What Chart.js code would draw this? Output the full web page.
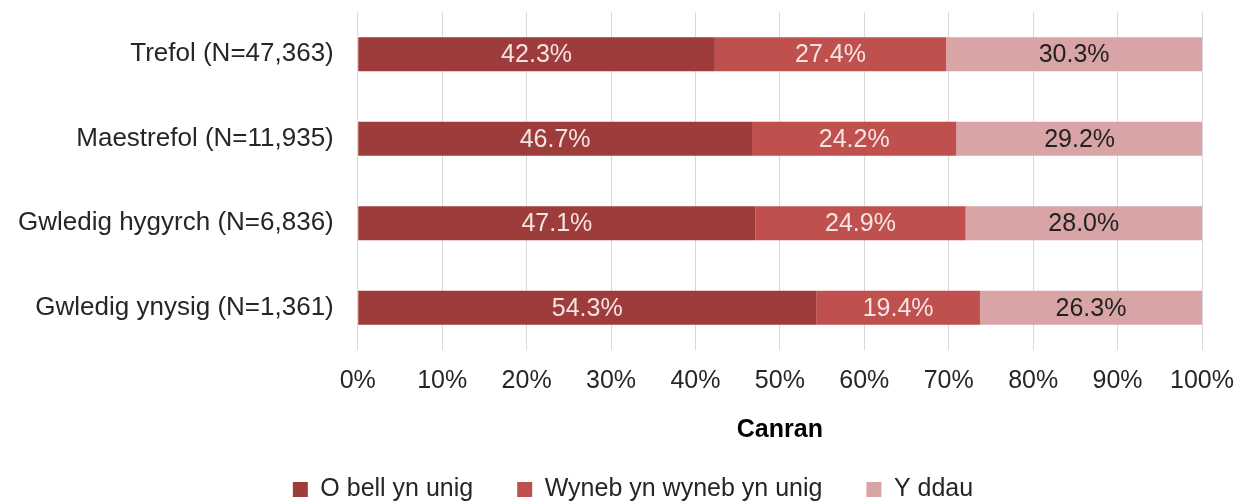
<!DOCTYPE html>
<html>
<head>
<meta charset="utf-8">
<script src="https://cdn.jsdelivr.net/npm/chart.js@4"></script>
<style>
  html, body { margin: 0; padding: 0; background: #fff; }
  #wrap { width: 1240px; height: 504px; position: relative; }
</style>
</head>
<body>
<div id="wrap"><canvas id="siart"></canvas></div>
<script>
// Data
const categories = ['Trefol (N=47,363)', 'Maestrefol (N=11,935)', 'Gwledig hygyrch (N=6,836)', 'Gwledig ynysig (N=1,361)'];
const seriesNames = ['O bell yn unig', 'Wyneb yn wyneb yn unig', 'Y ddau'];
const oBell = [42.3, 46.7, 47.1, 54.3];
const wynebYnWyneb = [27.4, 24.2, 24.9, 19.4];
const yDdau = [30.3, 29.2, 28.0, 26.3];
const xTicks = [0, 10, 20, 30, 40, 50, 60, 70, 80, 90, 100];
const axisTitle = 'Canran';

const lliwiau = ['#9e3c3b', '#c0504d', '#d9a4a6'];
const lliwTestun = ['#f3e4e4', '#f3e4e4', '#222222'];

// Labeli ar y barrau
const labeliBarrau = {
    id: 'labeliBarrau',
    afterDatasetsDraw(chart) {
        const ctx = chart.ctx;
        ctx.save();
        ctx.font = '25px "Liberation Sans", Arial, sans-serif';
        ctx.textAlign = 'center';
        ctx.textBaseline = 'middle';
        chart.data.datasets.forEach((ds, i) => {
            const meta = chart.getDatasetMeta(i);
            meta.data.forEach((bar, j) => {
                const p = bar.getCenterPoint();
                ctx.fillStyle = lliwTestun[i];
                ctx.fillText(ds.data[j].toFixed(1) + '%', p.x, p.y + 1);
            });
        });
        ctx.restore();
    }
};

// Symud yr allwedd ychydig i'r dde, fel yn y gwreiddiol
const symudAllwedd = {
    id: 'symudAllwedd',
    afterLayout(chart) {
        const lg = chart.legend;
        const shift = 633 - (lg.left + lg.right) / 2;
        lg.left += shift;
        lg.right += shift;
    }
};

Chart.defaults.font.family = '"Liberation Sans", Arial, sans-serif';
Chart.defaults.color = '#262626';

new Chart(document.getElementById('siart').getContext('2d'), {
    type: 'bar',
    data: {
        labels: categories,
        datasets: [oBell, wynebYnWyneb, yDdau].map((d, i) => ({
            label: seriesNames[i],
            data: d,
            backgroundColor: lliwiau[i],
            borderWidth: 0,
            categoryPercentage: 0.8,
            barPercentage: 0.5
        }))
    },
    options: {
        indexAxis: 'y',
        responsive: true,
        maintainAspectRatio: false,
        animation: false,
        layout: { padding: { left: 18, right: 38, top: 12, bottom: -8 } },
        scales: {
            x: {
                stacked: true,
                min: 0,
                max: 100,
                afterBuildTicks: axis => { axis.ticks = xTicks.map(v => ({ value: v })); },
                afterFit: axis => { axis.height += 18; },
                ticks: { callback: v => v + '%', font: { size: 25 }, padding: 0, color: '#262626', maxRotation: 0 },
                grid: { color: '#d9d9d9', drawTicks: true, tickLength: 16, tickColor: 'rgba(0,0,0,0)', lineWidth: 1 },
                border: { display: false },
                title: { display: true, text: axisTitle, font: { size: 25, weight: 'bold' }, color: '#000', padding: { top: 1, bottom: -12 } }
            },
            y: {
                stacked: true,
                ticks: { font: { size: 26, lineHeight: 0.8 }, padding: 0, color: '#262626' },
                grid: { display: true, drawOnChartArea: false, drawTicks: true, tickLength: 24, color: 'rgba(0,0,0,0)' },
                border: { display: false }
            }
        },
        plugins: {
            legend: {
                position: 'bottom',
                labels: { boxWidth: 15, boxHeight: 15, font: { size: 25 }, color: '#262626', padding: 44 }
            },
            tooltip: { enabled: false }
        }
    },
    plugins: [labeliBarrau, symudAllwedd]
});
</script>
</body>
</html>
